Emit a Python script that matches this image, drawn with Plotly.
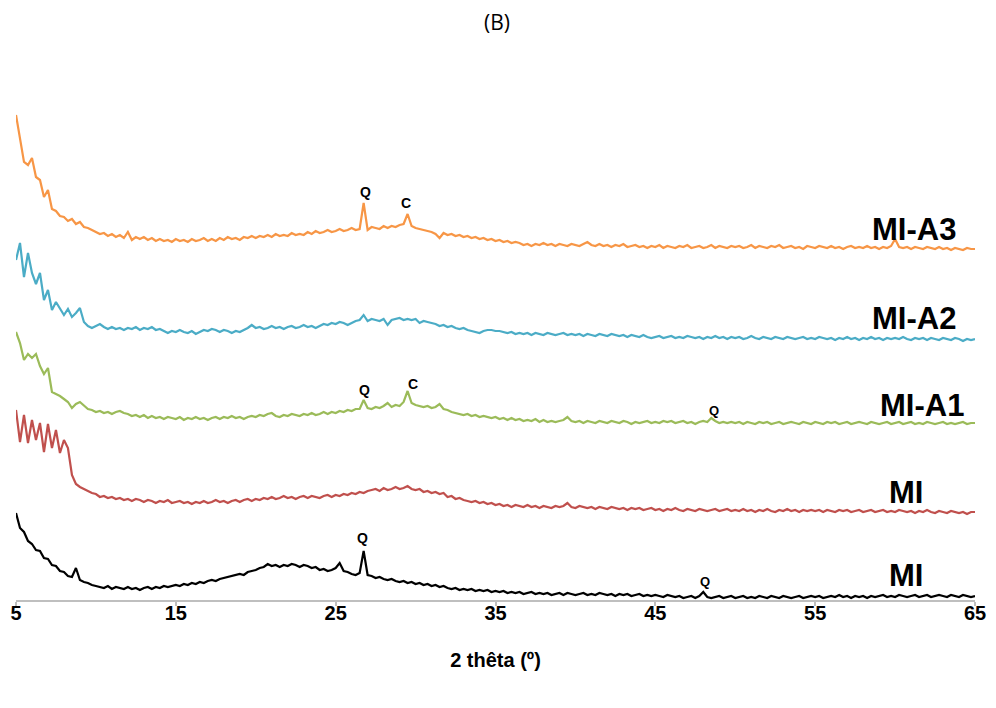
import plotly.graph_objects as go

# 2-theta sampling grid (degrees)
two_theta = [5 + 0.25 * i for i in range(241)]

# Intensities (arbitrary units, stacked patterns as displayed)
mi_a3 = [
    505,482,458,455,462,443,440,423,430,411,409,404,403,399,401,396,398,393,392,390,
    388,386,387,384,386,383,385,382,388,380,383,381,383,380,382,379,381,379,380,378,
    381,379,380,378,381,379,380,382,379,381,379,382,380,383,381,382,380,383,382,384,
    382,384,383,385,383,386,384,385,384,387,385,386,385,388,386,389,387,388,390,388,
    389,391,389,390,392,390,391,417,390,393,392,391,394,392,394,393,395,396,406,394,
    392,391,390,389,388,386,382,387,385,386,384,385,383,384,382,383,381,382,380,381,
    379,380,378,379,377,378,377,375,376,374,376,375,377,375,376,374,376,375,374,376,
    375,374,376,378,375,374,376,374,375,373,375,374,376,373,374,375,373,374,372,374,
    373,375,372,374,373,372,374,373,375,372,373,374,372,373,375,372,374,373,372,374,
    373,374,372,373,375,372,374,373,372,374,373,375,372,373,374,372,373,371,374,373,
    372,374,373,372,374,372,373,371,373,374,372,373,372,374,372,373,371,373,372,374,
    381,373,372,373,371,373,372,371,373,372,371,373,371,372,370,372,371,370,372,371,
    371]

mi_a2 = [
    360,377,343,367,347,336,347,320,330,310,318,312,305,311,303,307,312,298,294,292,
    294,296,293,291,293,291,292,290,292,291,293,290,292,291,293,290,291,289,287,289,
    288,290,288,287,289,286,288,290,289,291,290,288,290,289,287,289,288,290,292,295,
    292,293,291,292,294,292,293,291,293,294,292,293,295,293,294,292,294,296,295,297,
    296,298,297,295,297,299,300,305,299,301,300,299,301,295,300,301,302,300,301,300,
    301,297,299,298,297,296,294,295,293,294,292,291,292,290,289,288,287,289,290,290,
    289,289,288,287,288,286,287,286,287,285,287,286,285,287,286,285,286,287,285,286,
    285,286,284,286,285,284,286,285,284,286,285,284,285,283,285,284,283,285,283,282,
    283,284,282,283,284,282,283,282,284,283,282,283,281,283,282,284,282,283,281,283,
    282,283,281,282,284,282,281,283,282,281,283,282,281,283,282,281,282,283,281,282,
    281,283,282,281,282,280,282,281,283,281,282,280,282,281,283,281,282,280,282,281,
    282,281,283,281,280,282,281,282,280,282,281,280,282,281,280,282,281,279,281,280,
    281]

mi_a1 = [
    288,277,260,266,262,266,254,246,252,228,226,224,221,218,212,216,218,214,211,210,
    208,209,207,208,206,208,209,207,206,204,205,203,205,202,204,202,203,201,203,202,
    201,203,200,202,201,203,201,202,200,202,203,201,203,202,204,202,203,201,203,204,
    203,205,204,206,207,204,203,205,204,206,205,204,206,205,207,205,206,208,206,208,
    207,209,208,210,209,211,211,220,212,211,213,212,214,217,213,215,214,218,229,217,
    215,214,213,214,212,213,216,211,210,208,207,206,205,206,204,205,203,204,203,202,
    203,201,202,200,202,200,201,199,200,199,201,198,200,198,199,198,199,200,203,199,
    198,199,197,199,198,197,199,198,197,199,198,197,199,198,196,198,197,198,199,197,
    198,197,199,198,199,197,198,199,197,198,196,198,199,198,202,199,197,198,197,198,
    197,198,196,198,197,196,198,197,198,196,197,198,196,197,198,197,196,198,197,196,
    198,197,196,198,197,198,196,197,198,196,197,198,197,196,198,197,196,197,198,196,
    197,198,196,197,198,196,197,196,198,197,196,197,198,196,197,196,197,198,196,197,
    197]

mi_red = [
    210,178,205,177,200,180,197,168,196,172,190,167,180,172,145,136,133,131,129,127,
    126,123,124,122,123,121,122,120,121,119,121,120,118,120,119,117,119,118,120,117,
    118,119,117,118,116,118,117,119,117,118,120,118,119,117,119,120,118,120,121,119,
    121,120,122,121,123,121,122,124,122,123,121,123,124,122,124,123,122,124,125,123,
    125,124,126,125,127,126,128,127,129,130,131,129,132,130,131,133,131,132,134,131,
    130,131,128,129,127,128,126,127,123,124,121,122,120,119,118,119,117,118,116,117,
    115,116,114,115,113,115,114,113,115,113,114,112,114,113,112,114,113,114,117,113,
    112,114,113,112,113,111,113,112,111,113,112,111,112,110,112,111,112,110,111,112,
    110,111,109,111,110,112,110,109,111,110,109,111,110,109,110,111,109,110,111,109,
    110,109,111,109,110,108,110,109,111,109,108,110,109,111,109,110,108,110,109,110,
    109,110,108,110,109,108,110,109,110,108,109,110,108,109,110,108,109,110,108,109,
    108,110,109,108,109,107,109,108,110,108,107,109,108,107,109,108,107,108,106,108,
    108]

mi_black = [
    107,92,88,79,76,70,69,62,61,55,54,49,48,44,43,52,40,38,37,35,
    34,33,32,34,31,33,32,31,33,31,32,30,32,33,31,33,32,34,33,34,
    35,34,36,35,37,36,38,37,39,40,39,41,42,43,44,45,46,45,48,49,
    50,52,53,56,54,55,53,55,54,56,55,53,55,54,52,53,50,51,49,50,
    52,57,49,48,46,45,47,69,45,44,42,43,41,40,41,39,38,39,37,38,
    36,37,35,36,34,35,33,34,32,31,32,30,31,30,31,29,30,29,30,28,
    29,28,29,27,28,27,28,26,27,28,26,27,26,27,25,26,27,25,27,26,
    25,26,27,25,26,25,27,26,25,26,24,26,25,26,24,25,26,24,25,24,
    25,24,23,25,24,23,24,22,23,24,22,24,28,23,22,23,24,22,23,24,
    22,23,24,22,23,22,24,23,22,24,23,22,24,23,22,23,24,22,23,24,
    23,24,22,23,24,23,25,23,24,22,24,23,24,22,24,23,24,25,23,24,
    23,25,24,23,24,25,23,24,25,23,24,25,24,23,25,24,23,25,24,23,
    24]

series_names = ["MI-A3", "MI-A2", "MI-A1", "MI", "MI"]
series_values = [mi_a3, mi_a2, mi_a1, mi_red, mi_black]
series_colors = ["#F79646", "#4BACC6", "#9BBB59", "#C0504D", "#000000"]
for v in series_values:
    assert len(v) == len(two_theta), len(v)

# series labels
label_text = ["MI-A3", "MI-A2", "MI-A1", "MI", "MI"]
label_x = [61.19, 61.19, 61.70, 60.69, 60.69]
label_y = [391, 302, 215, 128, 45]

# phase markers (Q = quartz, C = calcite)
peak_text = ["Q", "C", "Q", "C", "Q", "Q", "Q"]
peak_x = [26.84, 29.4, 26.78, 29.84, 48.68, 26.7, 48.1]
peak_y = [428, 417, 230, 236, 210, 82, 39]
peak_size = [14, 14, 14, 14, 13, 14, 13]

xticks = [5, 15, 25, 35, 45, 55, 65]

fig = go.Figure()
for name, vals, col in zip(series_names, series_values, series_colors):
    fig.add_trace(go.Scatter(x=two_theta, y=vals, mode="lines", name=name,
                             line=dict(color=col, width=2.2), showlegend=False,
                             hoverinfo="skip"))

annotations = []
for t, x, y in zip(label_text, label_x, label_y):
    annotations.append(dict(x=x, y=y, xref="x", yref="y", text=t, showarrow=False,
                            xanchor="center", yanchor="middle",
                            font=dict(family="Liberation Sans, Arial", size=31,
                                      color="black", weight=700)))
for t, x, y, s in zip(peak_text, peak_x, peak_y, peak_size):
    annotations.append(dict(x=x, y=y, xref="x", yref="y", text=t, showarrow=False,
                            xanchor="center", yanchor="middle",
                            font=dict(family="Liberation Sans, Arial", size=s,
                                      color="black", weight=700)))

fig.update_layout(
    width=980, height=692,
    paper_bgcolor="white", plot_bgcolor="white",
    margin=dict(l=8, r=13, t=82, b=100),
    title=dict(text="(B)", x=0.499, xanchor="center", xref="container",
               y=1 - 15 / 692, yref="container", yanchor="middle",
               font=dict(family="Open Sans, Liberation Sans", size=21, color="black")),
    annotations=annotations,
    xaxis=dict(range=[5, 65], tickvals=xticks, ticktext=[str(t) for t in xticks],
               automargin=False, ticklabeloverflow="allow",
               showgrid=False, zeroline=False, showline=True, linecolor="#BFBFBF",
               linewidth=1.5, ticks="outside", ticklen=4, tickcolor="#BFBFBF",
               tickwidth=1.5, ticklabelstandoff=-10,
               tickfont=dict(family="Liberation Sans, Arial", size=20, color="black",
                             weight=700),
               title=dict(text="2 thêta (º)", standoff=30,
                          font=dict(family="Liberation Sans, Arial", size=20,
                                    color="black", weight=700))),
    yaxis=dict(range=[20, 530], visible=False, showgrid=False, zeroline=False,
               automargin=False),
)

fig.write_html("out.html")
